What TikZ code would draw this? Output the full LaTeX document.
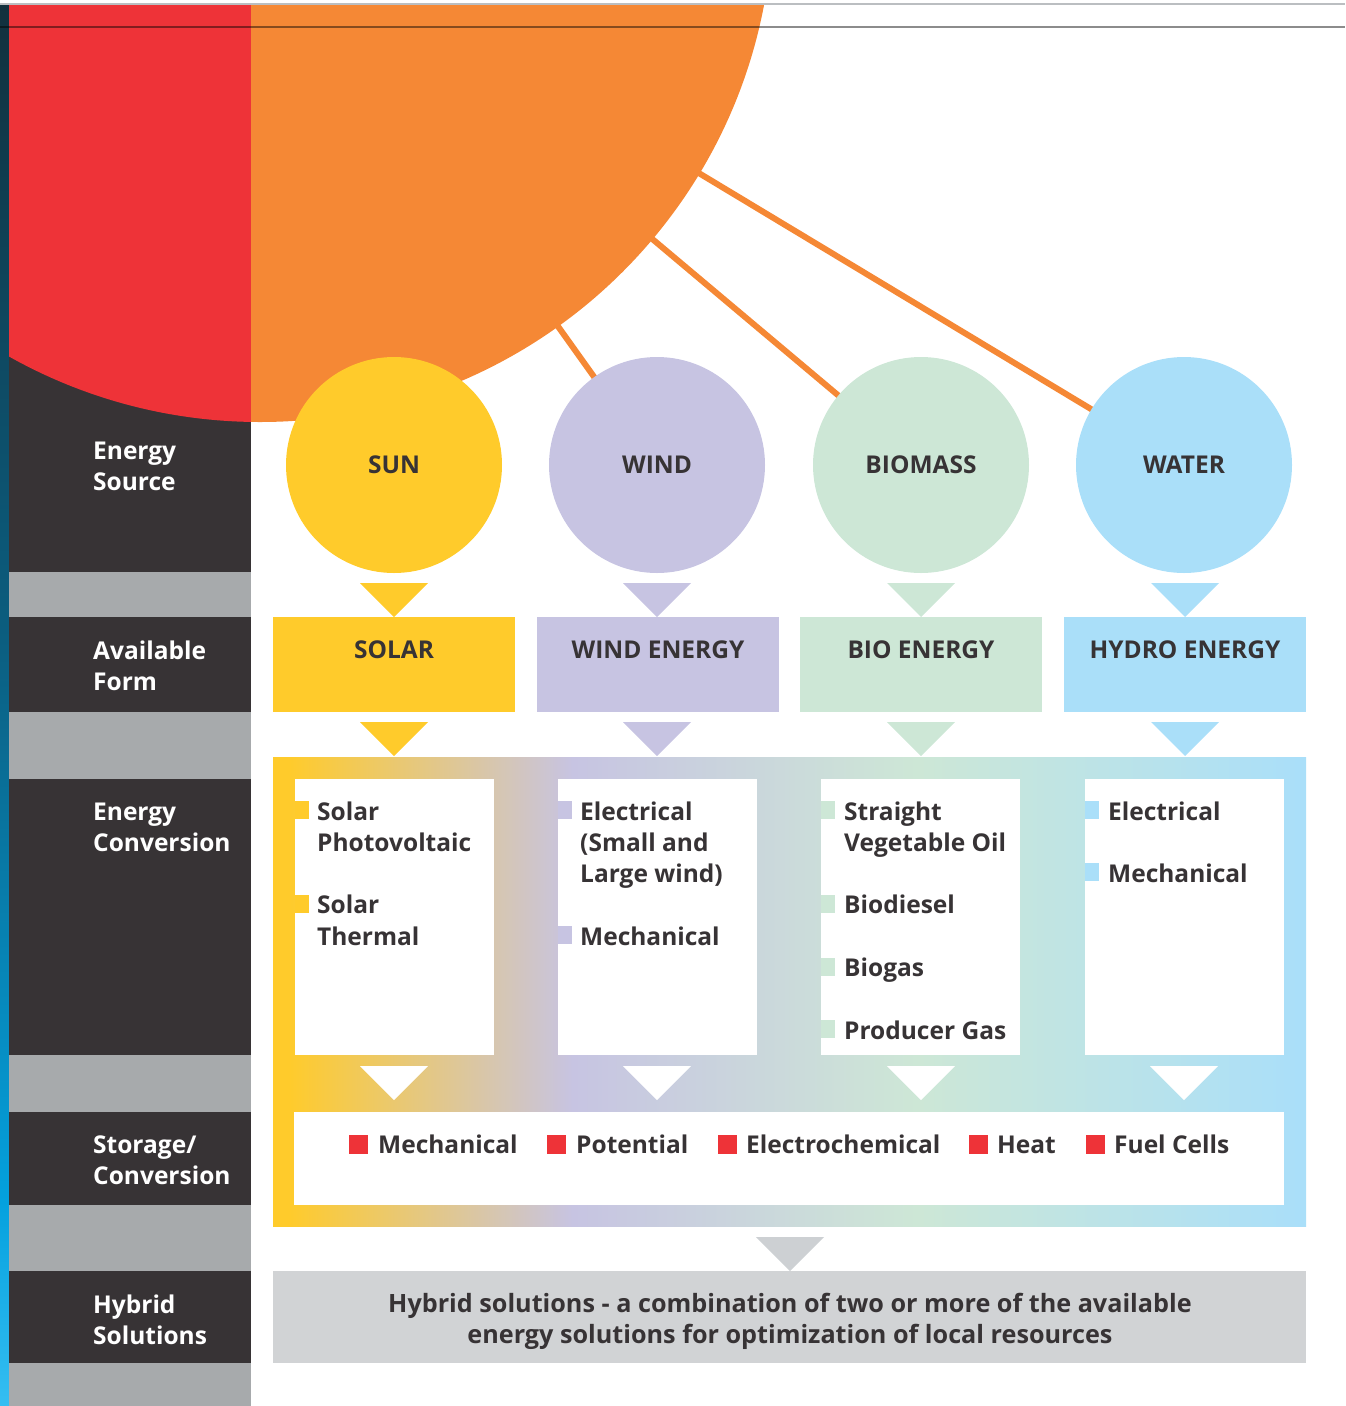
\documentclass[tikz,border=0pt]{standalone}
\usepackage{fontspec}
\setmainfont{Open Sans}
\usetikzlibrary{calc}
\definecolor{cred}{HTML}{EE3338}
\definecolor{corange}{HTML}{F58835}
\definecolor{cdark}{HTML}{373335}
\definecolor{cband}{HTML}{A7AAAC}
\definecolor{cyel}{HTML}{FFCB2B}
\definecolor{clav}{HTML}{C7C4E2}
\definecolor{cmint}{HTML}{CDE7D6}
\definecolor{cblue}{HTML}{AADFF9}
\definecolor{chyb}{HTML}{D1D3D5}
\definecolor{chybtri}{HTML}{CDD0D3}
\definecolor{crule}{HTML}{BBBEC1}
\definecolor{sA}{HTML}{12303D}
\definecolor{sB}{HTML}{0B5E80}
\definecolor{sC}{HTML}{04A1DE}
\definecolor{sD}{HTML}{35BEF2}
\pgfdeclarehorizontalshading{frameshade}{100bp}{color(0bp)=(cyel); color(25.75bp)=(cyel); color(39.5bp)=(clav); color(56.2bp)=(cmint); color(74.7bp)=(cblue); color(100bp)=(cblue)}
\pgfdeclareverticalshading{stripshade}{100bp}{color(0bp)=(sD); color(25bp)=(sD); color(32.3bp)=(sC); color(52.3bp)=(sB); color(75bp)=(sA); color(100bp)=(sA)}
\pgfdeclarelayer{lines}
\pgfsetlayers{lines,main}
\newcommand\fnt{\fontsize{24.5}{31.3}\selectfont\bfseries}
\newcommand\hfnt{\fontsize{25.2}{31.3}\selectfont\bfseries}
\newcommand\lns[1]{\begin{tabular}[t]{@{}l@{}}#1\end{tabular}}
\newcommand\clns[1]{\begin{tabular}[t]{@{}c@{}}#1\end{tabular}}
\newcommand\tri[3]{\fill[#1] (#2-34,#3) -- (#2+34,#3) -- (#2,#3+34) -- cycle;}
\newcommand\cbul[3]{\fill[#1] (#2,#3-19) rectangle (#2+14,#3-1);}
\newcommand\sbul[2]{\fill[cred] (#1,#2-18) rectangle (#1+19,#2+1);}
\begin{document}
\begin{tikzpicture}[x=1pt,y=-1pt,
  lbl/.style={font=\fnt, text=white, inner sep=0pt, anchor=base west},
  txt/.style={font=\fnt, text=cdark, inner sep=0pt, anchor=base west},
  hdr/.style={font=\fnt, text=cdark, inner sep=0pt, anchor=base},
  bubble/.style={circle, minimum size=216pt, inner sep=0pt, font=\fnt, text=cdark},
  formbox/.style={rectangle, minimum width=242pt, minimum height=95pt, inner sep=0pt},
  conn/.style={draw=corange, line width=6pt}]
\useasboundingbox (0,0) rectangle (1345,1406);
% left strip
\shade[shading=stripshade] (0,4) rectangle (9,1406);
% left column
\fill[cdark] (9,5) rectangle (251,1406);
\foreach \a/\b in {572/617, 712/779, 1055/1112, 1205/1271, 1363/1406}
  \fill[cband] (9,\a) rectangle (251,\b);
% big sun
\coordinate (bigc) at (260,-91);
\begin{scope}
  \clip (9,5) rectangle (251,1406);
  \fill[cred] (bigc) circle[radius=513pt];
\end{scope}
\begin{scope}
  \clip (251,5) rectangle (1345,1406);
  \fill[corange] (bigc) circle[radius=513pt];
\end{scope}
% top rules
\draw[crule, line width=1.3pt] (0,4) -- (1345,4);
\draw[black, opacity=0.45, line width=1.3pt] (0,27) -- (1345,27);
% source circles
\node[bubble, fill=cyel] (sun) at (394,465) {SUN};
\node[bubble, fill=clav] (wind) at (657,465) {WIND};
\node[bubble, fill=cmint] (bio) at (921,465) {BIOMASS};
\node[bubble, fill=cblue] (water) at (1184,465) {WATER};
\begin{pgfonlayer}{lines}
  \draw[conn] ($(bigc)!500pt!(wind.center)$) -- (wind.center);
  \draw[conn] ($(bigc)!500pt!(bio.center)$) -- (bio.center);
  \draw[conn] ($(bigc)!500pt!(water.center)$) -- (water.center);
\end{pgfonlayer}
% triangles row 1
\tri{cyel}{394}{583}\tri{clav}{657}{583}\tri{cmint}{921}{583}\tri{cblue}{1185}{583}
% available form boxes
\node[formbox, fill=cyel] (solarbox) at (394,664.5) {};
\node[formbox, fill=clav] (windbox) at (658,664.5) {};
\node[formbox, fill=cmint] (biobox) at (921,664.5) {};
\node[formbox, fill=cblue] (hydrobox) at (1185,664.5) {};
\node[hdr] (solart) at (394,658) {SOLAR};
\node[hdr] (windt) at (658,658) {WIND ENERGY};
\node[hdr] (biot) at (921,658) {BIO ENERGY};
\node[hdr] (hydrot) at (1185,658) {HYDRO ENERGY};
% triangles row 2
\tri{cyel}{394}{722}\tri{clav}{657}{722}\tri{cmint}{921}{722}\tri{cblue}{1185}{722}
% gradient frame
\shade[shading=frameshade] (273,757) rectangle (1306,1226);
\fill[white] (295,779) rectangle (494,1055);
\fill[white] (558,779) rectangle (757,1055);
\fill[white] (821,779) rectangle (1020,1055);
\fill[white] (1085,779) rectangle (1284,1055);
\fill[white] (294,1112) rectangle (1284,1205);
\tri{white}{394}{1066}\tri{white}{657}{1066}\tri{white}{921}{1066}\tri{white}{1184}{1066}
% conversion lists
\cbul{cyel}{295}{820}\cbul{cyel}{295}{914}
\node[txt] (solarlist) at (317,820) {\lns{Solar\\Photovoltaic\\ \\Solar\\Thermal}};
\cbul{clav}{558}{820}\cbul{clav}{558}{945}
\node[txt] (windlist) at (580,820) {\lns{Electrical\\(Small and\\Large wind)\\ \\Mechanical}};
\cbul{cmint}{821}{820}\cbul{cmint}{821}{914}\cbul{cmint}{821}{977}\cbul{cmint}{821}{1039}
\node[txt] (biolist) at (844,820) {\lns{Straight\\Vegetable Oil\\ \\Biodiesel\\ \\Biogas\\ \\Producer Gas}};
\cbul{cblue}{1085}{820}\cbul{cblue}{1085}{882}
\node[txt] (waterlist) at (1108,820) {\lns{Electrical\\ \\Mechanical}};
% storage
\sbul{349}{1153}\node[txt] (st1) at (378,1153) {Mechanical};
\sbul{547}{1153}\node[txt] (st2) at (576,1153) {Potential};
\sbul{718}{1153}\node[txt] (st3) at (746,1153) {Electrochemical};
\sbul{969}{1153}\node[txt] (st4) at (997,1153) {Heat};
\sbul{1086}{1153}\node[txt] (st5) at (1114,1153) {Fuel Cells};
% hybrid
\tri{chybtri}{790}{1237}
\fill[chyb] (273,1271) rectangle (1306,1363);
\node[hdr, font=\hfnt] (hyb) at (790,1312) {\clns{Hybrid solutions - a combination of two or more of the available\\energy solutions for optimization of local resources}};
% left labels
\node[lbl] (l1) at (93,459) {\lns{Energy\\Source}};
\node[lbl] (l2) at (93,659) {\lns{Available\\Form}};
\node[lbl] (l3) at (93,820) {\lns{Energy\\Conversion}};
\node[lbl] (l4) at (93,1153) {\lns{Storage/\\Conversion}};
\node[lbl] (l5) at (93,1313) {\lns{Hybrid\\Solutions}};
\end{tikzpicture}
\end{document}
